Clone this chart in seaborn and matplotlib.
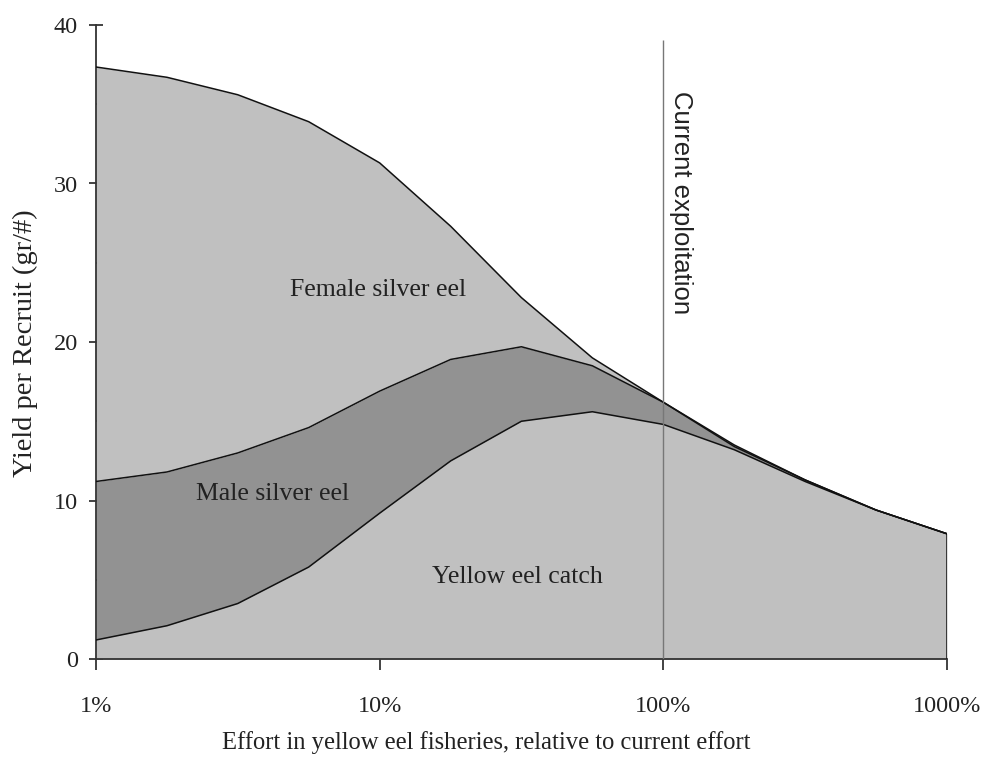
import numpy as np
import pandas as pd
import matplotlib
matplotlib.use("Agg")
import matplotlib.pyplot as plt
import seaborn as sns

# Effort relative to current (%), quarter-decade steps
effort = [1, 1.78, 3.16, 5.62, 10, 17.8, 31.6, 56.2, 100, 178, 316, 562, 1000]
# Yield per recruit components (gr/#)
yellow_catch = [1.2, 2.1, 3.5, 5.8, 9.2, 12.5, 15.0, 15.6, 14.8, 13.2, 11.2, 9.4, 7.9]
male_silver = [10.0, 9.7, 9.5, 8.8, 7.7, 6.4, 4.7, 2.9, 1.4, 0.2, 0.1, 0.0, 0.0]
female_silver = [26.15, 24.9, 22.6, 19.3, 14.4, 8.4, 3.1, 0.5, 0.0, 0.1, 0.0, 0.0, 0.0]

x_ticks = [1, 10, 100, 1000]
x_ticklabels = ["1%", "10%", "100%", "1000%"]
y_ticks = [0, 10, 20, 30, 40]

df = pd.DataFrame({
    "effort": effort,
    "yellow": yellow_catch,
    "male": male_silver,
    "female": female_silver,
})
df["male_top"] = df["yellow"] + df["male"]
df["female_top"] = df["male_top"] + df["female"]

sns.set_theme(style="ticks")
plt.rcParams["font.family"] = ["Liberation Serif", "DejaVu Serif"]

fig = plt.figure(figsize=(9.87, 7.65), dpi=100)
ax = fig.add_axes([96 / 987, 1 - 659 / 765, (947 - 96) / 987, (659 - 25) / 765])

light = "#c0c0c0"
dark = "#929292"
ax.fill_between(df["effort"], 0, df["yellow"], color=light, lw=0, zorder=1)
ax.fill_between(df["effort"], df["yellow"], df["male_top"], color=dark, lw=0, zorder=1)
ax.fill_between(df["effort"], df["male_top"], df["female_top"], color=light, lw=0, zorder=1)

long = pd.melt(df, id_vars="effort", value_vars=["yellow", "male_top", "female_top"],
               var_name="layer", value_name="y")
sns.lineplot(data=long, x="effort", y="y", units="layer", estimator=None,
             color="#111111", lw=1.1, ax=ax, zorder=3, legend=False)
ax.vlines(1000, 0, df["female_top"].iloc[-1], color="#111111", lw=1.1, zorder=3)

# Current exploitation line
ax.vlines(100, 0, 39.05, color="#777777", lw=1.0, zorder=4)
ax.text(115, 28.8, "Current exploitation", rotation=-90, ha="center", va="center",
        fontsize=18.5, family=["Liberation Sans", "DejaVu Sans"], color="#222222")

txt_color = "#222222"
ax.text(9.86, 23.3, "Female silver eel", ha="center", va="center", fontsize=18.5, color=txt_color)
ax.text(4.2, 10.4, "Male silver eel", ha="center", va="center", fontsize=18.5, color=txt_color)
ax.text(30.5, 5.17, "Yellow eel catch", ha="center", va="center", fontsize=18.5, color=txt_color)

ax.set_xscale("log")
ax.set_xlim(1, 1000)
ax.set_ylim(0, 40)
ax.set_xticks(x_ticks)
ax.set_xticklabels(x_ticklabels)
ax.xaxis.set_minor_locator(matplotlib.ticker.NullLocator())
ax.set_yticks(y_ticks)
ax.set_yticks([5, 15, 25, 35], minor=True)
ax.tick_params(axis="x", which="major", direction="out", length=8, width=1.2,
               pad=19, labelsize=17.5, colors=txt_color)
ax.tick_params(axis="y", which="major", direction="inout", length=10, width=1.2,
               pad=8, labelsize=17.5, colors=txt_color)
ax.tick_params(axis="y", which="minor", direction="in", length=5, width=1.2)

ax.set_xlabel("Effort in yellow eel fisheries, relative to current effort",
              fontsize=17.7, color=txt_color)
ax.xaxis.label.set_va("center")
ax.xaxis.set_label_coords(0.459, -0.1325)
ax.set_ylabel("Yield per Recruit (gr/#)", fontsize=20.5, color=txt_color)
ax.yaxis.label.set_va("center")
ax.yaxis.set_label_coords(-0.0834, 0.498)

sns.despine(ax=ax)
for s in ["left", "bottom"]:
    ax.spines[s].set_linewidth(1.3)
    ax.spines[s].set_color("#333333")
ax.set_facecolor("white")

fig.savefig("out.png", dpi=100, facecolor="white")
